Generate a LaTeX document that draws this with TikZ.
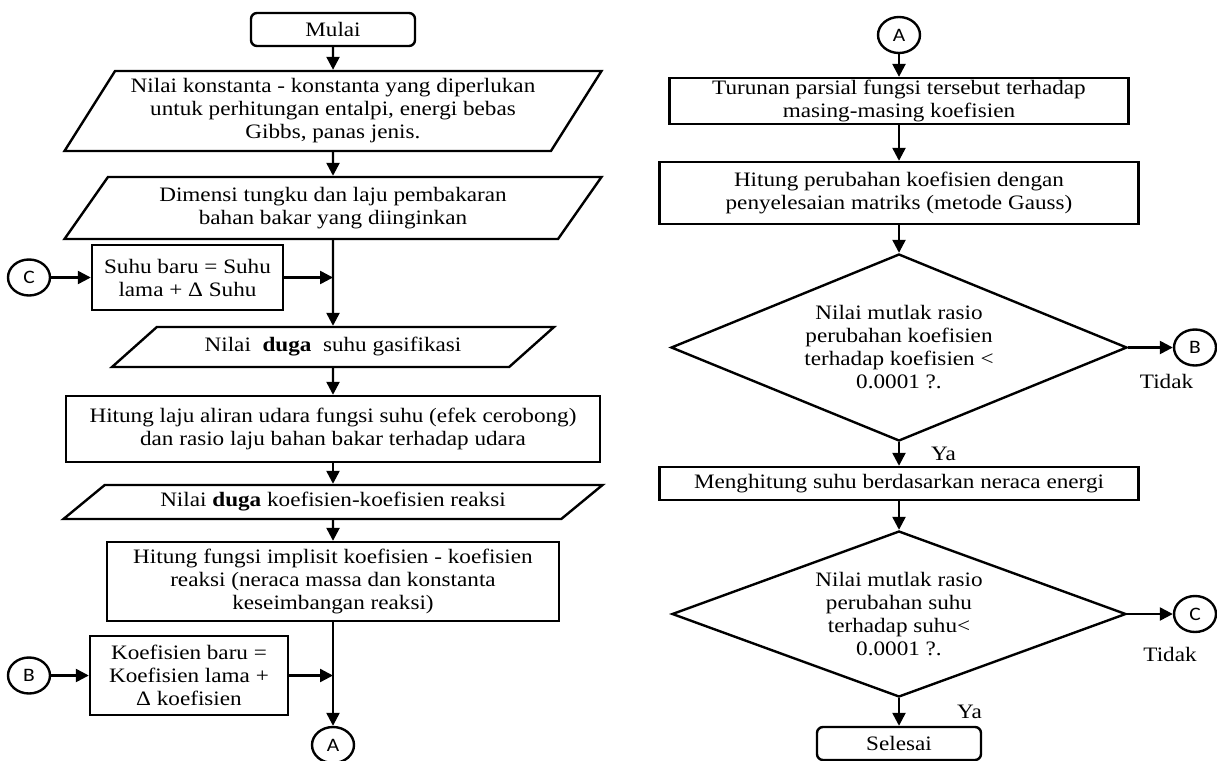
\documentclass[tikz,border=0pt]{standalone}
\usepackage{fontspec}
\setmainfont{Liberation Serif}[FakeStretch=1.13]
\newfontfamily\connfont{Carlito}[FakeStretch=1.13]
\usetikzlibrary{shapes.geometric,arrows.meta}

\begin{document}
\begin{tikzpicture}[
    x=1pt,y=-1pt,
    ->,>={Triangle[length=13pt,width=13pt]},
    line width=2.4pt,
    font=\fontsize{20.5}{23}\selectfont,
    every node/.style={align=center,inner sep=2pt},
    proc/.style={draw,rectangle,minimum width=#1},
    term/.style={draw,rounded corners=6pt,minimum width=164pt,minimum height=33pt},
    io/.style={draw,trapezium,trapezium stretches body=true},
    cond/.style={draw,diamond,inner sep=0pt},
    conn/.style={draw,ellipse,minimum width=42pt,minimum height=36pt,inner sep=0pt,font=\connfont\fontsize{19}{19}\selectfont}
]
\useasboundingbox (0,0) rectangle (1217,760);

% left column
\node[term] (M) at (333,29.5) {Mulai};
\node[io,trapezium left angle=53.6,trapezium right angle=126.4,minimum width=537pt,minimum height=80pt] (N1) at (333,111)
    {Nilai konstanta - konstanta yang diperlukan\\ untuk perhitungan entalpi, energi bebas\\ Gibbs, panas jenis.};
\node[io,trapezium left angle=46.4,trapezium right angle=133.6,minimum width=537pt,minimum height=62pt] (N2) at (333,208)
    {Dimensi tungku dan laju pembakaran\\ bahan bakar yang diinginkan};
\node[proc=191pt,minimum height=65pt] (S) at (187.5,277.5) {Suhu baru = Suhu\\ lama + Δ Suhu};
\node[conn] (C1) at (29,277.5) {C};
\node[io,trapezium left angle=27.1,trapezium right angle=152.9,minimum width=442pt,minimum height=40pt] (N3) at (333,347)
    {Nilai\ \ \textbf{duga}\ \ suhu gasifikasi};
\node[proc=534pt,minimum height=66pt] (L) at (333,429)
    {Hitung laju aliran udara fungsi suhu (efek cerobong)\\ dan rasio laju bahan bakar terhadap udara};
\node[io,trapezium left angle=29.1,trapezium right angle=150.9,minimum width=539pt,minimum height=34pt] (N4) at (333,502)
    {Nilai \textbf{duga} koefisien-koefisien reaksi};
\node[proc=452pt,minimum height=79pt] (F) at (333,581.5)
    {Hitung fungsi implisit koefisien - koefisien\\ reaksi (neraca massa dan konstanta\\ keseimbangan reaksi)};
\node[proc=198pt,minimum height=79pt] (K) at (189,675.5) {Koefisien baru =\\ Koefisien lama +\\ Δ koefisien};
\node[conn] (B1) at (29,675.5) {B};
\node[conn] (A1) at (333,745) {A};

% right column
\node[conn] (A2) at (899,35) {A};
\node[proc=459pt,minimum height=42pt] (T) at (899,101)
    {Turunan parsial fungsi tersebut terhadap\\ masing-masing koefisien};
\node[proc=479pt,minimum height=62pt] (G) at (899,193)
    {Hitung perubahan koefisien dengan\\ penyelesaian matriks (metode Gauss)};
\node[cond,aspect=2.44,minimum width=456pt,minimum height=187pt] (D1) at (899,347.5)
    {Nilai mutlak rasio\\ perubahan koefisien\\ terhadap koefisien <\\ 0.0001 ?.};
\node[proc=479pt,minimum height=33pt] (H) at (899,483.5) {Menghitung suhu berdasarkan neraca energi};
\node[cond,aspect=2.73,minimum width=454pt,minimum height=166pt] (D2) at (899,614)
    {Nilai mutlak rasio\\ perubahan suhu\\ terhadap suhu<\\ 0.0001 ?.};
\node[term] (E) at (899,743.5) {Selesai};
\node[conn] (B2) at (1195,347.5) {B};
\node[conn] (C2) at (1195,614) {C};

\path (M)  edge (N1)
      (N1) edge (N2)
      (N2) edge (N3)
      (N3) edge (L)
      (L)  edge (N4)
      (N4) edge (F)
      (F)  edge (A1)
      (C1) edge (S)
      (B1) edge (K)
      (S.east) edge (S.east -| N2.south)
      (K.east) edge (K.east -| F.south);

\path (A2) edge (T)
      (T)  edge (G)
      (G)  edge (D1)
      (D1) edge node[right=29pt]{Ya} (H)
      (H)  edge (D2)
      (D2) edge node[right=55pt]{Ya} (E)
      (D1) edge node[below=24pt,xshift=16pt]{Tidak} (B2)
      (D2) edge node[below=30pt,xshift=20pt]{Tidak} (C2);
\end{tikzpicture}
\end{document}
